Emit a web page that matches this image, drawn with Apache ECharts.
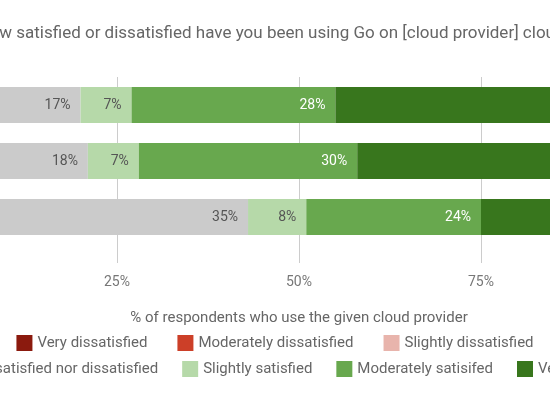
<!DOCTYPE html>
<html>
<head>
<meta charset="utf-8">
<script src="https://cdn.jsdelivr.net/npm/echarts@6/dist/echarts.min.js"></script>
<style>
  html, body { margin: 0; padding: 0; overflow: hidden; background: #fff; }
  #main { position: absolute; left: -200px; top: 0; width: 950px; height: 400px; }
</style>
</head>
<body>
<div id="main"></div>
<script>
var providers = ['AWS', 'Google Cloud', 'Azure'];
var seriesNames = ['Very dissatisfied', 'Moderately dissatisfied', 'Slightly dissatisfied',
  'Neither satisfied nor dissatisfied', 'Slightly satisfied', 'Moderately satisifed', 'Very satisfied'];
var veryDis = [1, 1, 2];
var modDis = [1, 1, 3];
var slightDis = [1, 1, 3];
var neutral = [17, 18, 35];
var slightSat = [7, 7, 8];
var modSat = [28, 30, 24];
var verySat = [45, 43, 25];
var xTicks = [0, 25, 50, 75, 100];

var colors = ['#8b1a0e', '#cc3f28', '#e8b4ac', '#cbcbcb', '#b6d9a9', '#68a84e', '#38761d'];
var labelColors = ['#fff', '#fff', '#555', '#555', '#555', '#fff', '#fff'];
var allData = [veryDis, modDis, slightDis, neutral, slightSat, modSat, verySat];

var chart = echarts.init(document.getElementById('main'));
chart.setOption({
  animation: false,
  textStyle: { fontFamily: 'Roboto' },
  title: {
    text: 'How satisfied or dissatisfied have you been using Go on [cloud provider] cloud?',
    left: 'center', top: 20,
    textStyle: { fontSize: 17, fontWeight: 'normal', color: '#666' }
  },
  legend: [{
    data: seriesNames.slice(0, 3),
    top: 330, left: 'center', itemWidth: 16, itemHeight: 16, itemGap: 30,
    icon: 'rect', textStyle: { fontSize: 15, color: '#666' }
  }, {
    data: seriesNames.slice(3),
    top: 356, left: 'center', itemWidth: 16, itemHeight: 16, itemGap: 24,
    icon: 'rect', textStyle: { fontSize: 15, color: '#666' }
  }],
  grid: { left: 135, right: 87, top: 77, bottom: 155 },
  xAxis: {
    type: 'value', min: 0, max: 100, interval: 25,
    name: '% of respondents who use the given cloud provider',
    nameLocation: 'middle', nameGap: 66,
    nameTextStyle: { fontSize: 15, color: '#666' },
    axisLine: { show: false },
    axisTick: { show: true, length: 18, lineStyle: { color: '#ccc' } },
    axisLabel: { fontSize: 14, color: '#777', margin: 30, formatter: '{value}%' },
    splitLine: { lineStyle: { color: '#ccc' } }
  },
  yAxis: {
    type: 'category', data: providers, inverse: true,
    axisLine: { show: false }, axisTick: { show: false },
    axisLabel: { fontSize: 14, color: '#555' }
  },
  series: seriesNames.map(function (name, i) {
    return {
      name: name, type: 'bar', stack: 'total', barWidth: '64%',
      data: allData[i],
      itemStyle: { color: colors[i] },
      label: {
        show: true, position: 'insideRight', distance: 10,
        fontSize: 14, color: labelColors[i],
        formatter: function (p) { return p.value >= 5 ? p.value + '%' : ''; }
      }
    };
  })
});
</script>
</body>
</html>
